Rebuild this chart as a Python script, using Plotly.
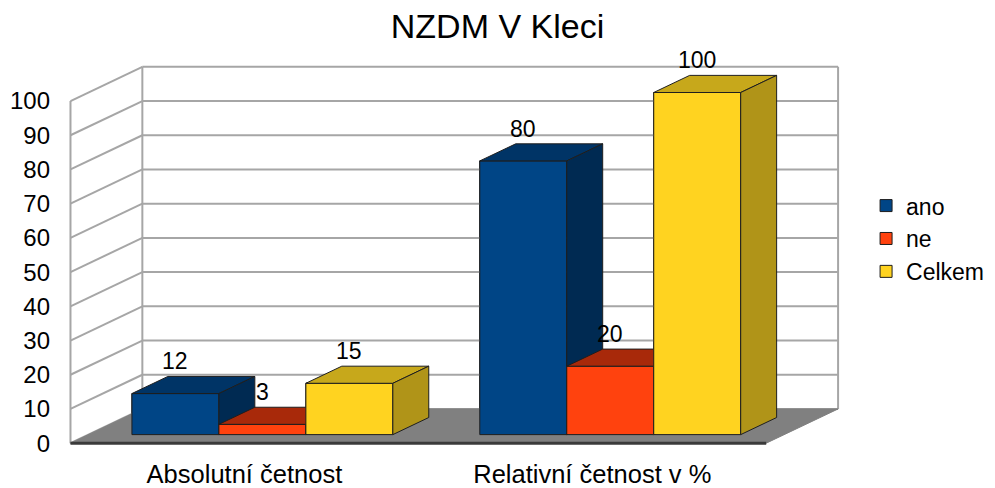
import plotly.graph_objects as go

# ---------------- data ----------------
categories = ["Absolutní četnost", "Relativní četnost v %"]
series_names = ["ano", "ne", "Celkem"]
ano = [12, 80]
ne = [3, 20]
celkem = [15, 100]
series_values = [ano, ne, celkem]
y_ticks = [0, 10, 20, 30, 40, 50, 60, 70, 80, 90, 100]
title_text = "NZDM V Kleci"

# ---------------- style ----------------
front_colors = ["#004586", "#ff420e", "#ffd320"]
top_colors = ["#003466", "#a8290a", "#c7a81b"]
side_colors = ["#002a52", "#b8300b", "#b09418"]
edge_color = "#1e1e1e"
grid_color = "#a6a6a6"
floor_color = "#808080"
FONT = "Liberation Sans, Arial, sans-serif"

# oblique projection of depth (full depth of the box) in data units
DX = 0.2066   # category units
DY = 10.0     # value units
D0, D1 = 0.25, 0.75   # bar depth span (fraction of box depth)
BAR_W = 0.25
WALL_TOP = max(y_ticks)

n_cat = len(categories)
x_lo, x_hi = -0.5, n_cat - 0.5

fig = go.Figure()

# bar traces (front faces) - give legend entries
for j, name in enumerate(series_names):
    fig.add_trace(go.Bar(
        x=[i + (j - 1) * BAR_W + D0 * DX for i in range(n_cat)],
        y=series_values[j],
        base=D0 * DY,
        width=BAR_W,
        name=name,
        marker=dict(color=front_colors[j], line=dict(color=edge_color, width=1)),
        hoverinfo="skip",
    ))

# ---------------- walls ----------------
gx, gy = [], []
for v in y_ticks:
    gx += [x_lo + DX, x_hi + DX, None]
    gy += [v + DY, v + DY, None]
    gx += [x_lo, x_lo + DX, None]
    gy += [v, v + DY, None]
gx += [x_lo, x_lo, None, x_lo + DX, x_lo + DX, None, x_hi + DX, x_hi + DX, None]
gy += [0, WALL_TOP, None, DY, WALL_TOP + DY, None, DY, WALL_TOP + DY, None]
fig.add_trace(go.Scatter(x=gx, y=gy, mode="lines", line=dict(color=grid_color, width=2),
                         showlegend=False, hoverinfo="skip"))

# ---------------- floor ----------------
fig.add_trace(go.Scatter(
    x=[x_lo, x_hi, x_hi + DX, x_lo + DX, x_lo],
    y=[0, 0, DY, DY, 0],
    mode="lines", fill="toself", fillcolor=floor_color,
    line=dict(color=floor_color, width=1), showlegend=False, hoverinfo="skip"))
fig.add_trace(go.Scatter(x=[x_lo, x_hi], y=[0, 0], mode="lines",
                         line=dict(color="#3a3a3a", width=3),
                         showlegend=False, hoverinfo="skip"))


def face(xs, ys, color):
    fig.add_trace(go.Scatter(
        x=xs + [xs[0]], y=ys + [ys[0]], mode="lines", fill="toself",
        fillcolor=color, line=dict(color=edge_color, width=1),
        showlegend=False, hoverinfo="skip"))


ddx = (D1 - D0) * DX
ddy = (D1 - D0) * DY
annotations = []
for i in range(n_cat):
    for j in range(len(series_names)):
        v = series_values[j][i]
        c = i + (j - 1) * BAR_W
        x0 = c - BAR_W / 2 + D0 * DX
        x1 = c + BAR_W / 2 + D0 * DX
        y0 = D0 * DY
        y1 = v + D0 * DY
        face([x0, x1, x1, x0], [y0, y0, y1, y1], front_colors[j])
        face([x0, x1, x1 + ddx, x0 + ddx], [y1, y1, y1 + ddy, y1 + ddy], top_colors[j])
        face([x1, x1, x1 + ddx, x1 + ddx], [y0, y1, y1 + ddy, y0 + ddy], side_colors[j])
        annotations.append(dict(
            x=c + D0 * DX, y=v + D1 * DY, text=str(v), showarrow=False,
            xref="x", yref="y", yanchor="bottom", xanchor="center",
            font=dict(family=FONT, size=23, color="black")))

# ---------------- layout ----------------
W, H = 995, 488
px_per_x = 768 / (x_hi + DX - x_lo)
px_per_y = 3.42
plot_right_px = 990
xr = [x_lo - 0.01, x_lo + (plot_right_px - 70) / px_per_x]
yr = [-2, 112]
left = 70 - (x_lo - xr[0]) * px_per_x
plot_w = plot_right_px - left
top = 443.5 - (yr[1] - 0) * px_per_y
plot_h = (yr[1] - yr[0]) * px_per_y

legend_left_px = 866
legend_x = (legend_left_px - left) / plot_w

fig.update_layout(
    width=W, height=H,
    margin=dict(l=left, r=W - plot_right_px, t=top, b=H - top - plot_h, pad=0),
    paper_bgcolor="white", plot_bgcolor="white",
    barmode="overlay",
    title=dict(text=title_text, x=0.5, xref="container", xanchor="center",
               y=1 - 26 / H, yref="container", yanchor="middle",
               font=dict(family=FONT, size=34, color="black")),
    xaxis=dict(range=xr, tickvals=list(range(n_cat)), ticktext=categories,
               showgrid=False, zeroline=False, showline=False, ticks="",
               tickfont=dict(family=FONT, size=25.5, color="black"),
               ticklabelstandoff=6, automargin=False, fixedrange=True),
    yaxis=dict(range=yr, tickvals=y_ticks, showgrid=False, zeroline=False,
               showline=False, ticks="",
               tickfont=dict(family=FONT, size=24, color="black"),
               ticklabelstandoff=16, automargin=False, fixedrange=True),
    legend=dict(x=legend_x, xanchor="left", y=0.542, yanchor="middle",
                font=dict(family=FONT, size=23, color="black"),
                bgcolor="rgba(0,0,0,0)", itemclick=False, itemdoubleclick=False),
    annotations=annotations,
    showlegend=True,
)

fig.write_html("out.html",
               config={"displayModeBar": False, "staticPlot": True},
               post_script="document.body.style.margin='0px';document.body.style.padding='0px';")
